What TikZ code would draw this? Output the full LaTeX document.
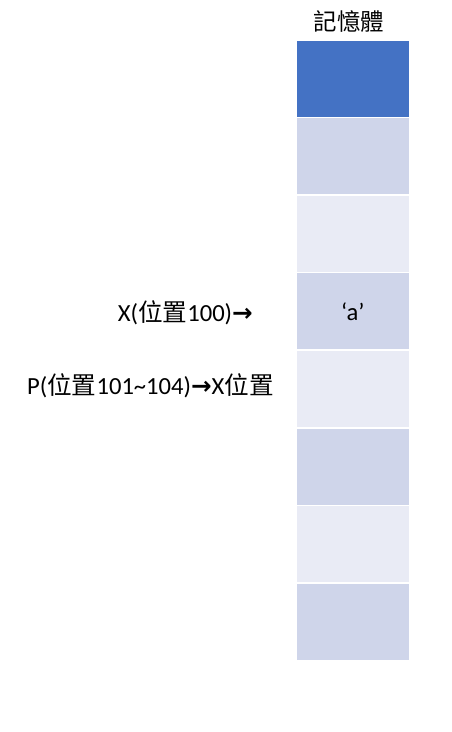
\documentclass[tikz,border=0pt]{standalone}
\usepackage{fontspec}
\setmainfont{Carlito}
\newfontfamily\cjk{Noto Sans CJK TC}
\newfontfamily\arrowfont{DejaVu Sans}
\newcommand{\barrow}{{\arrowfont\bfseries →}}
\definecolor{cellDark}{HTML}{4472C4}
\definecolor{cellMid}{HTML}{CFD5EA}
\definecolor{cellLight}{HTML}{E9EBF5}
\tikzset{
  cell/.style={draw=white, line width=1.5pt, minimum width=114pt, minimum height=77.6pt, inner sep=0pt, anchor=north west},
  lbl/.style={inner sep=0pt, font=\fontsize{24.6}{28}\selectfont}
}
\begin{document}
\begin{tikzpicture}[x=1pt,y=-1pt]
\useasboundingbox (0,0) rectangle (452,732);
\node[lbl, font=\cjk\fontsize{23.5}{28}\selectfont] (title) at (349,22) {記憶體};
\node[cell, fill=cellDark]  (c1) at (295,39) {};
\node[cell, fill=cellMid]   (c2) at (295,116.6) {};
\node[cell, fill=cellLight] (c3) at (295,194.2) {};
\node[cell, fill=cellMid]   (c4) at (295,271.8) {};
\node[cell, fill=cellLight] (c5) at (295,349.4) {};
\node[cell, fill=cellMid]   (c6) at (295,427) {};
\node[cell, fill=cellLight] (c7) at (295,504.6) {};
\node[cell, fill=cellMid]   (c8) at (295,582.2) {};
\node[lbl] (aval) at (c4.center) {‘a’};
\node[lbl, anchor=east] (xlbl) at (253,313) {X({\cjk 位置}100)\barrow};
\node[lbl, anchor=west] (plbl) at (27,386) {P({\cjk 位置}101\textasciitilde104)\barrow X{\cjk 位置}};
\end{tikzpicture}
\end{document}
